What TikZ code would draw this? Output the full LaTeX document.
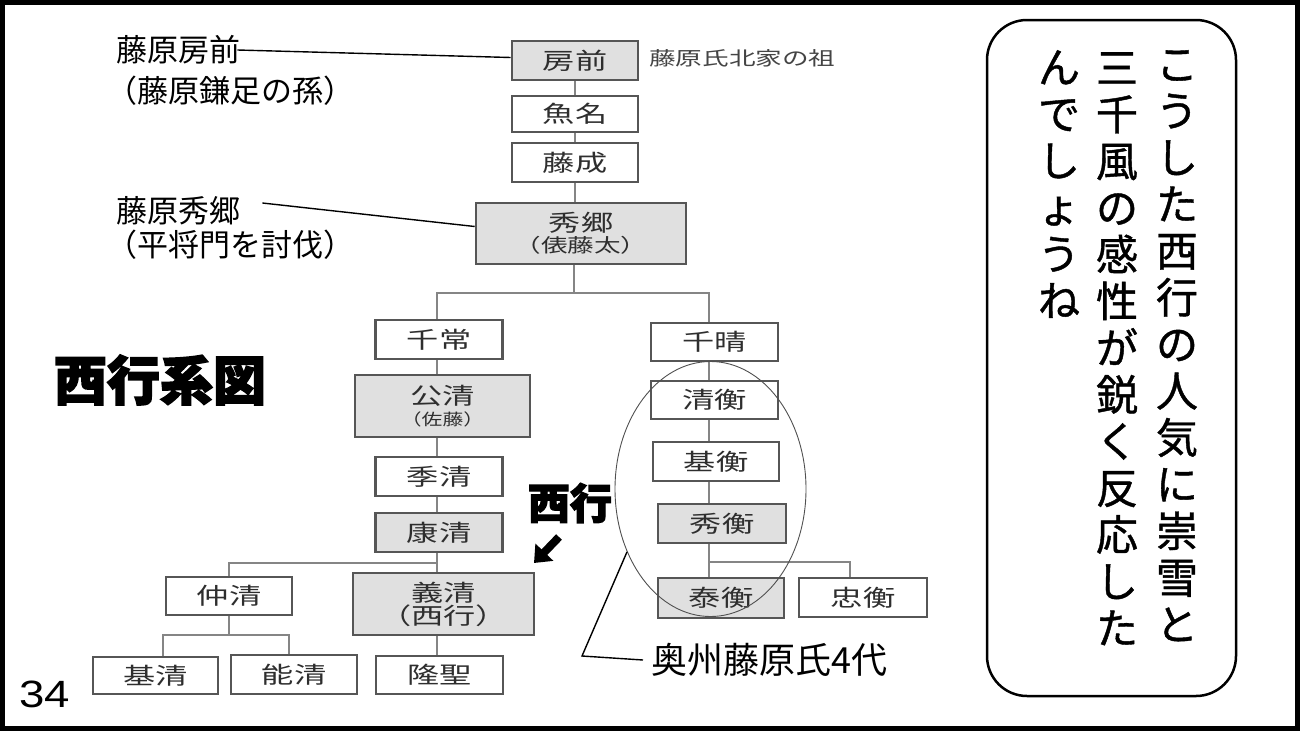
\documentclass[tikz,border=0pt]{standalone}
\usepackage{graphicx}
\usepackage{fontspec}
\setmainfont{Noto Sans CJK JP}
\newfontfamily\jpheavy{Noto Sans CJK JP}[FakeBold=3]
\newfontfamily\jpvert{Noto Sans CJK JP}[FakeBold=1]
\newfontfamily\numfont{Liberation Sans}
\usetikzlibrary{arrows.meta,shapes.geometric}
\definecolor{boxline}{HTML}{565656}
\definecolor{connc}{HTML}{858585}
\definecolor{boxfill}{HTML}{E0E0E0}
\definecolor{boxtext}{HTML}{2E2E2E}
\definecolor{ovalc}{HTML}{505050}
\definecolor{notec}{HTML}{444444}
\newcommand{\sx}[1]{\scalebox{1.4}[1]{#1}}
\newcommand{\sxs}[1]{\scalebox{1.3}[1]{#1}}
\tikzset{
  fam/.style={draw=boxline, line width=2.6pt, fill=white, inner sep=0pt, text=boxtext,
    font=\fontsize{23}{25}\selectfont, minimum width=126pt, minimum height=38pt},
  famg/.style={fam, fill=boxfill},
  conn/.style={draw=connc, line width=2pt},
  lead/.style={draw=black, line width=1.4pt},
  lbl/.style={anchor=west, inner sep=0pt, font=\fontsize{31}{33}\selectfont},
  vcol/.style={anchor=north, inner sep=0pt, align=center, font=\jpvert\fontsize{42}{46.7}\selectfont}
}
\begin{document}
\begin{tikzpicture}[x=1pt,y=-1pt]
\useasboundingbox (0,0) rectangle (1300,731);
\fill[white] (0,0) rectangle (1300,731);
\draw[line width=5pt] (2.5,2.5) rectangle (1297.5,728.5);

% ---- family boxes ----
\node[famg, minimum height=39pt] (fs) at (575,60.5) {\sx{房前}};
\node[fam, minimum height=36pt] (un) at (575,114) {\sx{魚名}};
\node[fam, minimum height=39pt] (fn) at (575,162.5) {\sx{藤成}};
\node[famg, minimum width=210pt, minimum height=61pt, align=center] (hd) at (581,233.5)
  {\sx{秀郷}\\[-4pt]{\fontsize{19}{19}\selectfont\sx{（俵藤太）}}};
\node[fam, minimum width=127pt, minimum height=39pt] (ct) at (439,339.5) {\sx{千常}};
\node[fam, minimum width=127pt] (ch) at (714.5,342) {\sx{千晴}};
\node[famg, minimum width=175pt, minimum height=62pt, align=center] (kk) at (442.5,406)
  {\sx{公清}\\[-4pt]{\fontsize{16}{16}\selectfont\sxs{（佐藤）}}};
\node[fam, minimum width=127pt, minimum height=39pt] (sk) at (439,476.5) {\sx{季清}};
\node[famg, minimum width=127pt, minimum height=39pt] (ky) at (439,532.5) {\sx{康清}};
\node[fam, minimum width=127pt] (sh) at (714.5,400) {\sx{清衡}};
\node[fam, minimum height=39pt] (mh) at (716,461.5) {\sx{基衡}};
\node[famg, minimum width=128pt, minimum height=39pt] (hh) at (722,523.5) {\sx{秀衡}};
\node[famg, minimum height=40pt] (th) at (721,598) {\sx{泰衡}};
\node[fam, minimum width=128pt, minimum height=39pt] (tc) at (863,597.5) {\sx{忠衡}};
\node[fam] (nk) at (229,596) {\sx{仲清}};
\node[famg, minimum width=181pt, minimum height=62pt, align=center] (yk) at (443.5,604)
  {\sx{義清}\\[-2pt]\sx{（西行）}};
\node[fam, minimum width=125pt, minimum height=37pt] (kis) at (155.5,675.5) {\sx{基清}};
\node[fam, minimum height=39pt] (nos) at (294,674.5) {\sx{能清}};
\node[fam, minimum width=127pt] (rs) at (439.5,675) {\sx{隆聖}};

% ---- connectors ----
\coordinate (bar) at (574,293);
\coordinate (lt) at (437,293);
\coordinate (rt) at (709,293);
\coordinate (lb) at (437,563);
\coordinate (cb) at (229,635);
\coordinate (rb) at (709,562);
\draw[conn] (fs.south) -- (fs.south |- un.north);
\draw[conn] (fs.south |- un.south) -- (fs.south |- fn.north);
\draw[conn] (fs.south |- fn.south) -- (fs.south |- hd.north);
\draw[conn] (bar |- hd.south) -- (bar);
\draw[conn] (lt |- ct.north) -- (lt) -- (rt) -- (rt |- ch.north);
\draw[conn] (lt |- ct.south) -- (lt |- kk.north);
\draw[conn] (lt |- kk.south) -- (lt |- sk.north);
\draw[conn] (lt |- sk.south) -- (lt |- ky.north);
\draw[conn] (lt |- ky.south) -- (lt |- yk.north);
\draw[conn] (lt |- yk.south) -- (lt |- rs.north);
\draw[conn] (nk.north) |- (lb);
\draw[conn] (nk.south) -- (cb);
\draw[conn] ([xshift=7.5pt]kis.north) |- (cb) -| ([xshift=-5pt]nos.north);
\draw[conn] (rt |- ch.south) -- (rt |- sh.north);
\draw[conn] (rt |- sh.south) -- (rt |- mh.north);
\draw[conn] (rt |- mh.south) -- (rt |- hh.north);
\draw[conn] (rt |- hh.south) -- (rt |- th.north);
\draw[conn] (rb) -| ([xshift=-13pt]tc.north);

% ---- notes ----
\node[anchor=west, inner sep=0pt, text=notec, font=\fontsize{19}{20}\selectfont] (note) at (649,58) {\sx{藤原氏北家の祖}};
\node[lbl] (l1a) at (116,50) {藤原房前};
\node[lbl] (l1b) at (116,91) {\hspace*{-0.3em}（藤原鎌足の孫）};
\node[lbl] (l2a) at (116,211) {藤原秀郷};
\node[lbl] (l2b) at (116,245) {\hspace*{-0.3em}（平将門を討伐）};
\draw[lead] ([xshift=-3pt]l1a.east) -- ([yshift=3pt]fs.west);
\draw[lead] ([shift={(22,-8)}]l2a.east) -- ([yshift=7pt]hd.west);

% ---- titles ----
\node[inner sep=0pt, font=\jpheavy\bfseries\fontsize{53}{55}\selectfont] (title) at (160,380) {西行系図};
\node[inner sep=0pt, font=\jpheavy\bfseries\fontsize{42}{44}\selectfont] (sg) at (570,503) {西行};
\coordinate (ar1) at (559,537);
\coordinate (ar2) at (534,563);
\draw[line width=8pt, -{Triangle[length=15pt,width=24pt]}] (ar1) -- (ar2);

% ---- oval and callout ----
\node[draw=ovalc, line width=0.9pt, ellipse, minimum width=191pt, minimum height=255pt, inner sep=0pt] (oval) at (710.5,489) {};
\node[anchor=west, inner sep=0pt, font=\fontsize{36}{38}\selectfont] (ok) at (651,660) {奥州藤原氏4代};
\coordinate (okc) at (582,656);
\draw[lead] (oval.217) -- (okc) -- ([xshift=-8pt]ok.west);

% ---- speech box ----
\node[draw=black, line width=2.5pt, rounded corners=40pt, minimum width=249pt, minimum height=676pt] (bubble) at (1111.5,358) {};
\node[vcol] (c1) at (1177,50) {こ\\う\\し\\た\\西\\行\\の\\人\\気\\に\\崇\\雪\\と};
\node[vcol] (c2) at (1117,52) {三\\千\\風\\の\\感\\性\\が\\鋭\\く\\反\\応\\し\\た};
\node[vcol] (c3) at (1059,50) {ん\\で\\し\\ょ\\う\\ね};

% ---- page number ----
\node[anchor=base west, inner sep=0pt, font=\numfont\fontsize{38}{40}\selectfont] (pg) at (19,707) {\scalebox{1.2}[1]{34}};
\end{tikzpicture}
\end{document}
